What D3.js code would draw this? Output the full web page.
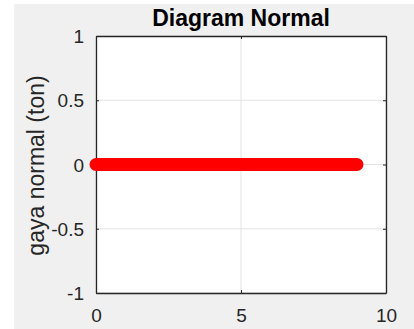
<!DOCTYPE html>
<html lang="en">
<head>
<meta charset="UTF-8">
<title>Diagram Normal</title>
<script src="https://d3js.org/d3.v7.min.js"></script>
<style>
  body { margin: 0; background: #ffffff; }
  svg { display: block; font-family: Arial, "Liberation Sans", sans-serif; }
  .tick text { fill: #262626; font-size: 19px; }
  .grid line { stroke: #e3e3e3; stroke-width: 1; }
</style>
</head>
<body>
<div id="chart"></div>
<script>
// data
const xValues = [0, 1, 2, 3, 4, 5, 6, 7, 8, 9];
const yValues = [0, 0, 0, 0, 0, 0, 0, 0, 0, 0];
const xTicks = [0, 5, 10];
const yTicks = [-1, -0.5, 0, 0.5, 1];
const titleText = "Diagram Normal";
const yLabel = "gaya normal (ton)";

const W = 414, H = 329;
const margin = { top: 36, right: 28, bottom: 36, left: 96 };
const width = W - margin.left - margin.right;
const height = H - margin.top - margin.bottom;

const svg = d3.select("#chart").append("svg")
  .attr("width", W)
  .attr("height", H);

// figure background (gray), white strip at left/top
svg.append("rect")
  .attr("x", 14).attr("y", 4)
  .attr("width", W - 14).attr("height", H - 4)
  .attr("fill", "#f0f0f0");

const g = svg.append("g")
  .attr("transform", `translate(${margin.left},${margin.top})`);

const x = d3.scaleLinear().domain([0, 10]).range([0, width]);
const y = d3.scaleLinear().domain([-1, 1]).range([height, 0]);

// plot area
g.append("rect")
  .attr("width", width).attr("height", height)
  .attr("fill", "#ffffff");

// grid
g.append("g").attr("class", "grid")
  .selectAll("line").data(xTicks).join("line")
  .attr("x1", d => x(d)).attr("x2", d => x(d))
  .attr("y1", 0).attr("y2", height);
g.append("g").attr("class", "grid")
  .selectAll("line").data(yTicks).join("line")
  .attr("x1", 0).attr("x2", width)
  .attr("y1", d => y(d)).attr("y2", d => y(d));

// plain hyphen for negatives, like matlab
const fmt = d => String(d);

// axes, ticks pointing inward like matlab
const xAxis = g.append("g")
  .attr("transform", `translate(0,${height})`)
  .call(d3.axisBottom(x).tickValues(xTicks).tickFormat(fmt).tickSizeInner(-3).tickSizeOuter(0).tickPadding(16));
const yAxis = g.append("g")
  .call(d3.axisLeft(y).tickValues(yTicks).tickFormat(fmt).tickSizeInner(-3).tickSizeOuter(0).tickPadding(12));
g.append("g")
  .attr("transform", `translate(${width},0)`)
  .call(d3.axisRight(y).tickValues(yTicks).tickSizeInner(-3).tickSizeOuter(0).tickFormat(""));
g.append("g")
  .call(d3.axisTop(x).tickValues(xTicks).tickSizeInner(-3).tickSizeOuter(0).tickFormat(""));

g.selectAll(".domain").attr("stroke", "#262626").attr("stroke-width", 1.3);
g.selectAll(".tick line").attr("stroke", "#262626");
g.selectAll(".tick text").attr("font-family", null).attr("font-size", null);
yAxis.selectAll(".tick text").attr("dy", "0.35em");

// data line
const line = d3.line()
  .x((d, i) => x(xValues[i]))
  .y(d => y(d));

g.append("path")
  .datum(yValues)
  .attr("fill", "none")
  .attr("stroke", "#ff0000")
  .attr("stroke-width", 13)
  .attr("stroke-linecap", "round")
  .attr("stroke-linejoin", "round")
  .attr("d", line);

// title
svg.append("text")
  .attr("x", margin.left + width / 2)
  .attr("y", 26)
  .attr("text-anchor", "middle")
  .attr("font-size", "23px")
  .attr("font-weight", "bold")
  .attr("fill", "#000000")
  .text(titleText);

// y label
svg.append("text")
  .attr("transform", `translate(44,${margin.top + height / 2 + 1}) rotate(-90)`)
  .attr("text-anchor", "middle")
  .attr("font-size", "23px")
  .attr("fill", "#262626")
  .text(yLabel);
</script>
</body>
</html>
